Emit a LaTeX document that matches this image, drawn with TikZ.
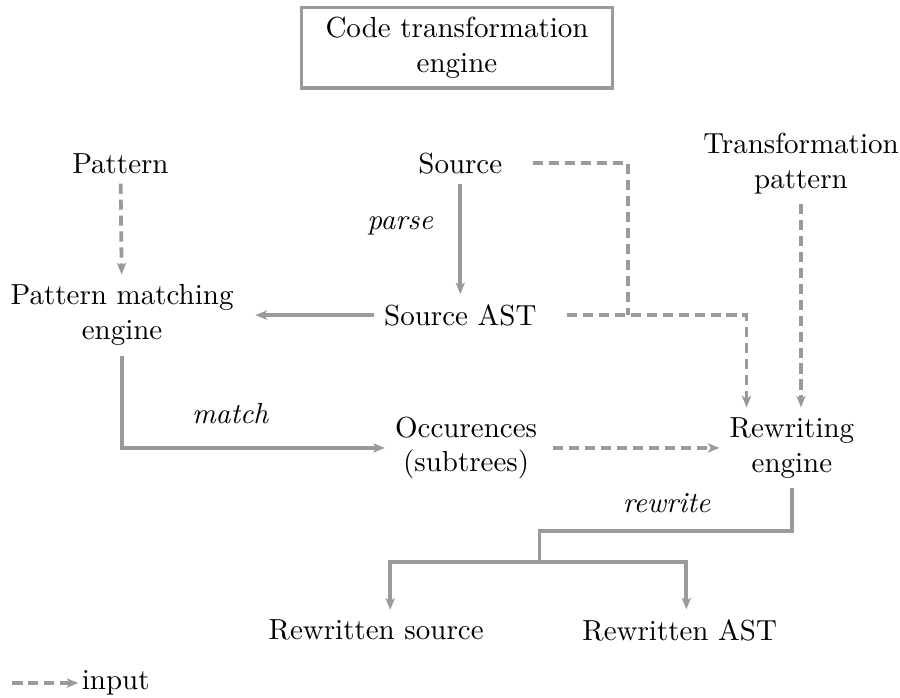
\documentclass[tikz,border=0pt]{standalone}
\usepackage{xcolor}
\usepackage{tikz}
\usetikzlibrary{arrows.meta,calc}
\definecolor{wire}{HTML}{9A9A9A}
\definecolor{ink}{HTML}{000000}
\tikzset{
  flow/.style={-{Stealth[length=4pt,width=3.2pt,inset=1pt]}, line width=1.3pt, draw=wire},
  flowline/.style={line width=1.3pt, draw=wire},
  input/.style={flow, dash pattern=on 3.5pt off 2pt},
  inputline/.style={flowline, dash pattern=on 3.5pt off 2pt},
  item/.style={align=center, text=ink},
  verb/.style={font=\itshape, text=ink},
  titlebox/.style={draw=wire, line width=1.3pt, align=center, minimum width=3.77cm, minimum height=0.96cm}
}

\begin{document}
\begin{tikzpicture}
  \useasboundingbox (0,0) rectangle (10.91,8.45);
  % title
  \node[titlebox] (title) at (5.54,7.87) {Code transformation\\engine};
  % inputs
  \node[item] (pattern) at (1.46,6.47) {Pattern};
  \node[item] (source) at (5.58,6.47) {Source};
  \node[item] (tpattern) at (9.71,6.47) {Transformation\\pattern};
  % engines and data
  \node[item] (pme) at (1.48,4.63) {Pattern matching\\engine};
  \node[item] (srcast) at (5.58,4.63) {Source AST};
  \node[item] (occ) at (5.65,3.02) {Occurences\\(subtrees)};
  \node[item] (rew) at (9.6,3.02) {Rewriting\\engine};
  % outputs
  \node[item] (rwsrc) at (4.56,0.81) {Rewritten source};
  \node[item] (rwast) at (8.24,0.81) {Rewritten AST};
  % step labels
  \node[verb] (parse) at (4.85,5.71) {parse};
  \node[verb] (match) at (2.79,3.44) {match};
  \node[verb] (rewrite) at (8.08,2.35) {rewrite};
  % bends
  \coordinate (jn) at (7.61,4.63);
  \coordinate (split) at (6.54,2.01);
  \coordinate (branch) at (6.54,1.64);
  % solid flow
  \draw[flow] (source) -- (srcast);
  \draw[flow, shorten >=4pt] (srcast) -- (pme);
  \draw[flow] (pme.south) |- (occ.west);
  \draw[flowline] (rew.south) |- (split) -- (branch);
  \draw[flow] (branch) -| ([xshift=0.17cm]rwsrc.north);
  \draw[flow] (branch) -| ([xshift=0.08cm]rwast.north);
  % inputs (dashed)
  \draw[input] (pattern) -- (pme);
  \draw[inputline, shorten <=7pt] (source.east) -| (jn);
  \draw[input, shorten <=7pt] (srcast.east) -| ([xshift=-0.55cm]rew.north);
  \draw[input] (tpattern.south) -- (tpattern.south |- rew.north);
  \draw[input, shorten <=2pt] (occ) -- (rew);
  % legend
  \coordinate (legstart) at (0.15,0.17);
  \node[item, anchor=west, inner sep=1pt] (legend) at (0.95,0.17) {input};
  \draw[input] (legstart) -- (legend.west);
\end{tikzpicture}
\end{document}
